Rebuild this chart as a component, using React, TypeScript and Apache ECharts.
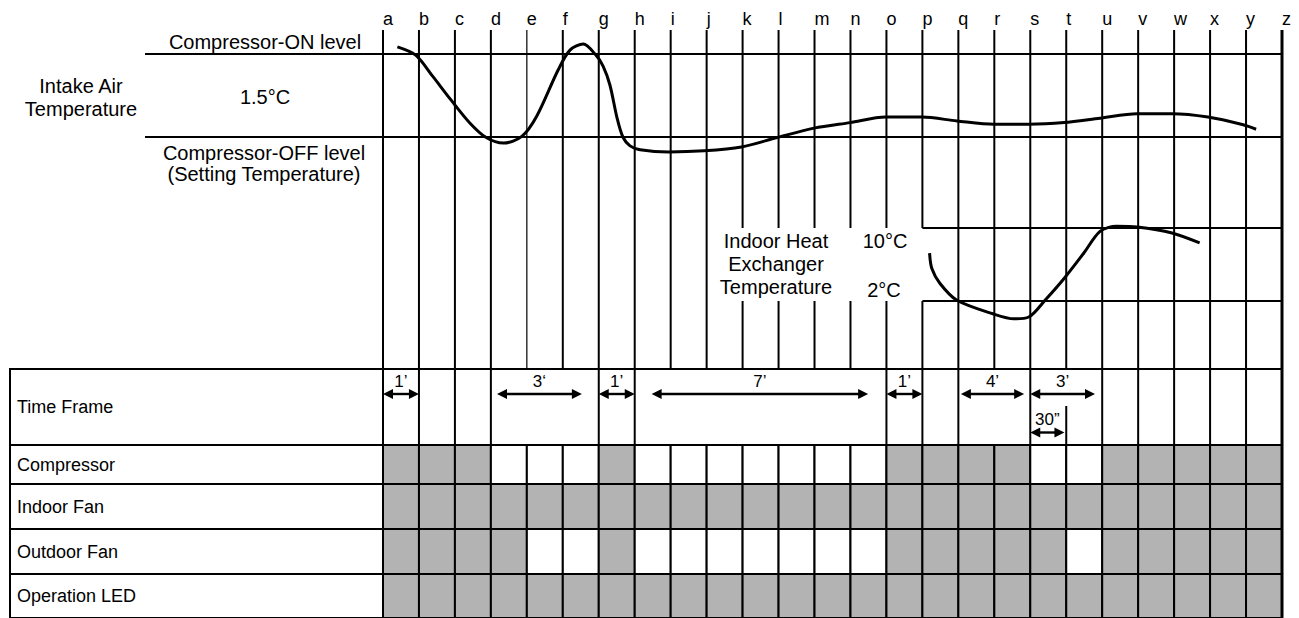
import React, { useEffect, useRef } from "react";
import * as echarts from "echarts";

// ---------- data ----------
const LETTERS = ["a","b","c","d","e","f","g","h","i","j","k","l","m","n","o","p","q","r","s","t","u","v","w","x","y","z"];

const ROW_NAMES = ["Compressor", "Indoor Fan", "Outdoor Fan", "Operation LED"];
const compressorState = [1,1,1,0,0,0,1,0,0,0,0,0,0,0,1,1,1,1,0,0,1,1,1,1,1];
const indoorFanState = [1,1,1,1,1,1,1,1,1,1,1,1,1,1,1,1,1,1,1,1,1,1,1,1,1];
const outdoorFanState = [1,1,1,1,0,0,1,0,0,0,0,0,0,0,1,1,1,1,1,0,1,1,1,1,1];
const operationLedState = [1,1,1,1,1,1,1,1,1,1,1,1,1,1,1,1,1,1,1,1,1,1,1,1,1];
const ROW_STATES = [compressorState, indoorFanState, outdoorFanState, operationLedState];

// intake air temperature (relative to setting temperature, °C) vs time grid index
const ON_LEVEL = 1.5;
const OFF_LEVEL = 0;
const intakeX = [0.40,0.91,1.39,1.89,2.42,2.87,3.35,3.86,4.27,4.87,5.20,5.57,5.92,6.12,6.31,6.51,6.67,6.87,7.15,7.95,8.93,9.97,10.96,11.99,12.99,13.98,14.99,15.96,16.99,17.96,18.94,19.94,20.97,21.94,22.94,23.92,24.28];
const intakeY = [1.63,1.48,1.09,0.67,0.25,-0.01,-0.11,0.01,0.37,1.21,1.57,1.68,1.48,1.28,0.94,0.34,0.0,-0.16,-0.23,-0.27,-0.25,-0.18,-0.01,0.16,0.26,0.36,0.36,0.29,0.23,0.23,0.26,0.34,0.42,0.42,0.36,0.22,0.14];

// indoor heat exchanger temperature (°C)
const HEX_HIGH = 10;
const HEX_LOW = 2;
const hexX = [15.20,15.26,15.49,15.96,16.96,17.55,17.96,18.41,18.94,19.49,19.94,20.40,20.97,21.94,22.71];
const hexY = [7.24,5.6,3.92,2.08,0.60,0.05,0.25,2.08,4.47,7.26,9.63,10.19,10.11,9.45,8.36];

// time frames
const tfFrom = [0, 3.17, 6, 7.47, 14, 16.07, 18, 18];
const tfTo = [1, 5.53, 7, 13.49, 15, 17.83, 19.8, 18.95];
const tfTier = [0, 0, 0, 0, 0, 0, 0, 1];
const tfLabel = ["1\u2019", "3\u2018", "1\u2019", "7\u2019", "1\u2019", "4\u2019", "3\u2019", "30\u201D"];

// grid lines present in the time-frame row (and where they start, fraction of row height)
const tfEdges = [0,1,2,3,6,7,14,15,16,18,19,20,21,22,23,24,25];
const tfEdgeStart = [0,0,0,0,0,0,0,0,0,0,0.487,0,0,0,0,0,0];

// ---------- layout ----------
const FONT = '"Liberation Sans", Arial, sans-serif';
const GRAY = "#b3b3b3";
const PLOT_L = 383;
const PLOT_W = 899;
const TOP_Y = 30;
const TABLE_EDGES = [369, 445, 484, 529, 574, 620];
const LABEL_L = 10;
const LEVEL_L = 145;
const ON_PX = 54, OFF_PX = 137;
const HI_PX = 228, LO_PX = 301;

const kIn = (OFF_PX - ON_PX) / (ON_LEVEL - OFF_LEVEL);
const IN_MAX = ON_LEVEL + (ON_PX - TOP_Y) / kIn;
const IN_MIN = OFF_LEVEL - (TABLE_EDGES[0] - OFF_PX) / kIn;
const kHx = (LO_PX - HI_PX) / (HEX_HIGH - HEX_LOW);
const HX_MAX = HEX_HIGH + (HI_PX - TOP_Y) / kHx;
const HX_MIN = HEX_LOW - (TABLE_EDGES[0] - LO_PX) / kHx;

function line(x1: number, y1: number, x2: number, y2: number, w = 2) {
  return { type: "line", shape: { x1, y1, x2, y2 }, style: { stroke: "#000", lineWidth: w } };
}

function buildOption() {
  const grids: any[] = [
    { left: PLOT_L, top: TOP_Y, width: PLOT_W, height: TABLE_EDGES[0] - TOP_Y },
  ];
  for (let r = 0; r < TABLE_EDGES.length - 1; r++) {
    grids.push({ left: PLOT_L, top: TABLE_EDGES[r], width: PLOT_W, height: TABLE_EDGES[r + 1] - TABLE_EDGES[r] });
  }
  const xAxes: any[] = grids.map((_, i) => ({
    gridIndex: i,
    type: "value",
    min: 0,
    max: LETTERS.length - 1,
    interval: 1,
    show: i === 0,
    position: "top",
    axisLine: { show: true, lineStyle: { color: "#000", width: 2 } },
    axisTick: { show: false },
    splitLine: { show: false },
    axisLabel: {
      show: true,
      formatter: (v: number) => LETTERS[Math.round(v)] ?? "",
      align: "left",
      margin: 2,
      color: "#000",
      fontSize: 18,
      fontFamily: FONT,
    },
  }));
  const rowLabelAxis = (gi: number, name: string) => ({
    gridIndex: gi,
    type: "category",
    data: [name],
    axisLine: { show: false },
    axisTick: { show: false },
    splitLine: { show: false },
    axisLabel: { align: "left", margin: PLOT_L - 17, color: "#000", fontSize: 18, fontFamily: FONT },
  });
  const yAxes: any[] = [
    { gridIndex: 0, type: "value", min: IN_MIN, max: IN_MAX, show: false },
    { gridIndex: 0, type: "value", min: HX_MIN, max: HX_MAX, show: false },
    rowLabelAxis(1, "Time Frame"),
    ...ROW_NAMES.map((n, i) => rowLabelAxis(i + 2, n)),
  ];

  const series: any[] = [];

  // vertical grid lines in the temperature area (broken around the heat-exchanger labels)
  series.push({
    type: "custom",
    xAxisIndex: 0,
    yAxisIndex: 1,
    silent: true,
    z: 1,
    data: LETTERS.map((_, i) => [i, HEX_LOW]),
    renderItem: (params: any, api: any) => {
      const i = api.value(0);
      const cs = params.coordSys;
      const x = api.coord([i, HEX_LOW])[0];
      const w = i === 4 ? 1.2 : i === 25 ? 3 : 2;
      if (i >= 10 && i <= 15) {
        const yh = api.coord([i, HEX_HIGH])[1];
        const yl = api.coord([i, HEX_LOW])[1];
        return { type: "group", children: [line(x, cs.y, x, yh, w), line(x, yl, x, cs.y + cs.height, w)] };
      }
      return line(x, cs.y, x, cs.y + cs.height, w);
    },
  });
  // compressor ON / OFF levels
  series.push({
    type: "custom",
    xAxisIndex: 0,
    yAxisIndex: 0,
    silent: true,
    z: 1,
    data: [[25, ON_LEVEL], [25, OFF_LEVEL]],
    renderItem: (params: any, api: any) => {
      const p = api.coord([api.value(0), api.value(1)]);
      return line(LEVEL_L, p[1], p[0], p[1], 2);
    },
  });
  // heat exchanger levels
  series.push({
    type: "custom",
    xAxisIndex: 0,
    yAxisIndex: 1,
    silent: true,
    z: 1,
    data: [[15, HEX_HIGH], [15, HEX_LOW]],
    renderItem: (params: any, api: any) => {
      const a = api.coord([api.value(0), api.value(1)]);
      const b = api.coord([25, api.value(1)]);
      return line(a[0], a[1], b[0], b[1], 2);
    },
  });
  // curves
  series.push({
    type: "line",
    xAxisIndex: 0,
    yAxisIndex: 0,
    silent: true,
    z: 3,
    smooth: 0.3,
    showSymbol: false,
    symbol: "none",
    lineStyle: { color: "#000", width: 3 },
    data: intakeX.map((x, i) => [x, intakeY[i]]),
  });
  series.push({
    type: "line",
    xAxisIndex: 0,
    yAxisIndex: 1,
    silent: true,
    z: 3,
    smooth: 0.3,
    showSymbol: false,
    symbol: "none",
    lineStyle: { color: "#000", width: 3 },
    data: hexX.map((x, i) => [x, hexY[i]]),
  });

  // time frame row: outer box + vertical lines
  series.push({
    type: "custom",
    xAxisIndex: 1,
    yAxisIndex: 2,
    silent: true,
    z: 2,
    data: tfEdges.map((e, i) => [e, tfEdgeStart[i]]),
    renderItem: (params: any, api: any) => {
      const cs = params.coordSys;
      const x = api.coord([api.value(0), 0])[0];
      const y0 = cs.y + api.value(1) * cs.height;
      const w = api.value(0) === 25 ? 3 : 2;
      return line(x, y0, x, cs.y + cs.height, w);
    },
  });
  series.push({
    type: "custom",
    xAxisIndex: 1,
    yAxisIndex: 2,
    silent: true,
    z: 2,
    data: [[25, 0]],
    renderItem: (params: any, api: any) => {
      const cs = params.coordSys;
      const xr = api.coord([25, 0])[0];
      return {
        type: "rect",
        shape: { x: LABEL_L, y: cs.y, width: xr - LABEL_L, height: cs.height },
        style: { fill: "none", stroke: "#000", lineWidth: 2 },
      };
    },
  });
  // time frame arrows
  series.push({
    type: "custom",
    xAxisIndex: 1,
    yAxisIndex: 2,
    silent: true,
    z: 4,
    data: tfFrom.map((f, i) => [f, tfTo[i], tfTier[i]]),
    encode: { x: [0, 1] },
    renderItem: (params: any, api: any) => {
      const cs = params.coordSys;
      const x1 = api.coord([api.value(0), 0])[0];
      const x2 = api.coord([api.value(1), 0])[0];
      const tier = api.value(2);
      const y = cs.y + (tier === 0 ? 25 : 63.5);
      const h = 10, w = 5;
      return {
        type: "group",
        children: [
          line(x1 + 4, y, x2 - 4, y, 2.4),
          { type: "polygon", shape: { points: [[x1, y], [x1 + h, y - w], [x1 + h, y + w]] }, style: { fill: "#000" } },
          { type: "polygon", shape: { points: [[x2, y], [x2 - h, y - w], [x2 - h, y + w]] }, style: { fill: "#000" } },
          {
            type: "text",
            style: {
              text: tfLabel[params.dataIndex],
              x: (x1 + x2) / 2,
              y: y - 13,
              align: "center",
              verticalAlign: "middle",
              fontSize: 17,
              fontFamily: FONT,
              fill: "#000",
            },
          },
        ],
      };
    },
  });

  // state rows
  ROW_STATES.forEach((states, r) => {
    const gi = r + 2;
    series.push({
      type: "custom",
      xAxisIndex: gi,
      yAxisIndex: gi + 1,
      silent: true,
      z: 2,
      data: states.map((s, c) => [c, s]),
      renderItem: (params: any, api: any) => {
        const cs = params.coordSys;
        const c = api.value(0);
        const s = api.value(1);
        const xa = api.coord([c, 0])[0];
        const xb = api.coord([c + 1, 0])[0];
        return {
          type: "rect",
          shape: { x: xa, y: cs.y, width: xb - xa, height: cs.height },
          style: { fill: s ? GRAY : "#fff", stroke: "#000", lineWidth: 2 },
        };
      },
    });
    series.push({
      type: "custom",
      xAxisIndex: gi,
      yAxisIndex: gi + 1,
      silent: true,
      z: 3,
      data: [[25, 0]],
      renderItem: (params: any, api: any) => {
        const cs = params.coordSys;
        const xr = api.coord([25, 0])[0];
        return {
          type: "group",
          children: [
            {
              type: "rect",
              shape: { x: LABEL_L, y: cs.y, width: xr - LABEL_L, height: cs.height },
              style: { fill: "none", stroke: "#000", lineWidth: 2 },
            },
            line(xr, cs.y, xr, cs.y + cs.height, 3),
          ],
        };
      },
    });
  });

  const txt = (text: string, x: number, y: number, size = 20, lh = 23) => ({
    type: "text",
    x,
    y,
    z: 10,
    silent: true,
    style: { text, align: "center", verticalAlign: "middle", fontSize: size, fontFamily: FONT, fill: "#000", lineHeight: lh },
  });

  const graphic = [
    txt("Compressor-ON level", 265, 42),
    txt("Intake Air\nTemperature", 81, 97),
    txt(`${ON_LEVEL - OFF_LEVEL}\u00B0C`, 265, 97),
    txt("Compressor-OFF level\n(Setting Temperature)", 264, 163, 20, 21),
    txt("Indoor Heat\nExchanger\nTemperature", 776, 264),
    txt(`${HEX_HIGH}\u00B0C`, 885, 241),
    txt(`${HEX_LOW}\u00B0C`, 884, 290),
  ];

  return {
    animation: false,
    backgroundColor: "#fff",
    grid: grids,
    xAxis: xAxes,
    yAxis: yAxes,
    series,
    graphic,
  };
}

export default function App() {
  const ref = useRef<HTMLDivElement>(null);
  useEffect(() => {
    document.body.style.margin = "0";
    const chart = echarts.init(ref.current!, null, { renderer: "svg" });
    chart.setOption(buildOption() as any);
    return () => chart.dispose();
  }, []);
  return <div ref={ref} style={{ position: "absolute", left: 0, top: 0, width: 1299, height: 618 }} />;
}
